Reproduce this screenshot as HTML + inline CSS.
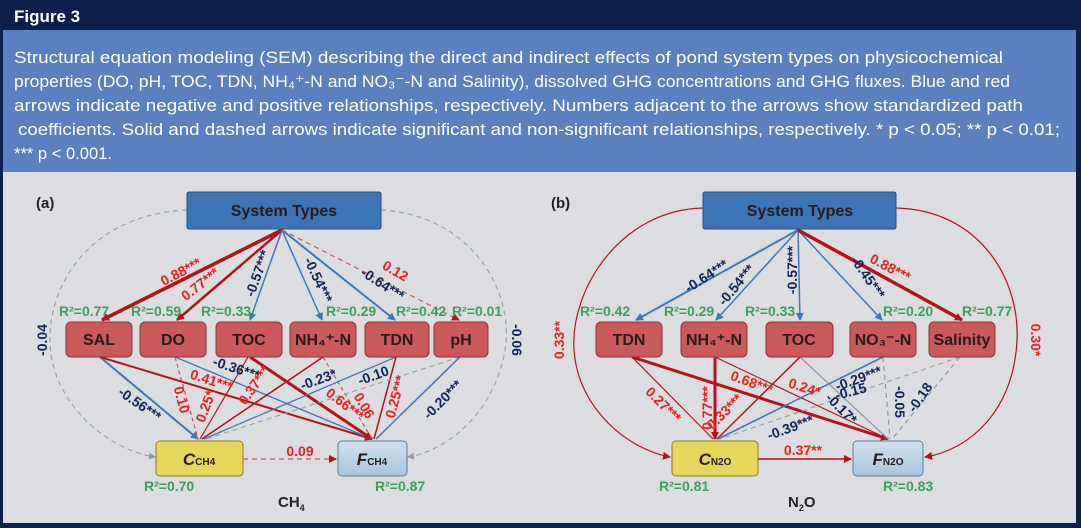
<!DOCTYPE html>
<html><head><meta charset="utf-8">
<style>
html,body{margin:0;padding:0;background:#dcdde0;}
svg{display:block;font-family:"Liberation Sans",sans-serif;}
.r{fill:#e8231e;font-weight:bold;font-size:14px;}
.b{fill:#13245a;font-weight:bold;font-size:14px;}
.g{fill:#3f9d5f;font-size:14px;font-weight:bold;}
.n{fill:#2a1a1a;font-size:16px;font-weight:bold;text-anchor:middle;}
.cap{fill:#fff;font-size:17px;}
</style></head><body>
<svg width="1081" height="528" viewBox="0 0 1081 528" xmlns="http://www.w3.org/2000/svg">
<defs>
<marker id="ar" markerWidth="8" markerHeight="8" refX="7" refY="4" orient="auto" markerUnits="userSpaceOnUse"><path d="M0,0 L8,4 L0,8 z" fill="#b3141c"/></marker>
<marker id="ab" markerWidth="8" markerHeight="8" refX="7" refY="4" orient="auto" markerUnits="userSpaceOnUse"><path d="M0,0 L8,4 L0,8 z" fill="#3e78b8"/></marker>
<marker id="ag" markerWidth="7" markerHeight="7" refX="6" refY="3.5" orient="auto" markerUnits="userSpaceOnUse"><path d="M0,0 L7,3.5 L0,7 z" fill="#8f98a6"/></marker>
<linearGradient id="fb" x1="0" y1="0" x2="0" y2="1"><stop offset="0" stop-color="#cfe0ee"/><stop offset="1" stop-color="#a9c6de"/></linearGradient>
</defs>
<rect x="0" y="0" width="1081" height="528" fill="#dcdde0"/>
<rect x="0" y="0" width="1081" height="30" fill="#0c1f4d"/>
<text x="14" y="22" fill="#fff" font-size="17" font-weight="bold">Figure 3</text>
<rect x="0" y="30" width="1081" height="142" fill="#5b80bf"/>
<rect x="0" y="30" width="3" height="498" fill="#0c1f4d"/>
<rect x="1076" y="30" width="5" height="498" fill="#0c1f4d"/>
<rect x="0" y="523" width="1081" height="5" fill="#0c1f4d"/>
<text class="cap" x="14" y="63" textLength="989" lengthAdjust="spacingAndGlyphs">Structural equation modeling (SEM) describing the direct and indirect effects of pond system types on physicochemical</text>
<text class="cap" x="14" y="87" textLength="996" lengthAdjust="spacingAndGlyphs">properties (DO, pH, TOC, TDN, NH₄⁺-N and NO₃⁻-N and Salinity), dissolved GHG concentrations and GHG fluxes. Blue and red</text>
<text class="cap" x="14" y="111" textLength="1009" lengthAdjust="spacingAndGlyphs">arrows indicate negative and positive relationships, respectively. Numbers adjacent to the arrows show standardized path</text>
<text class="cap" x="18" y="135" textLength="1042" lengthAdjust="spacingAndGlyphs">coefficients. Solid and dashed arrows indicate significant and non-significant relationships, respectively. * p &lt; 0.05; ** p &lt; 0.01;</text>
<text class="cap" x="14" y="159" textLength="98" lengthAdjust="spacingAndGlyphs">*** p &lt; 0.001.</text>

<!-- (a) -->
<text x="36" y="208" font-size="15" font-weight="bold" fill="#222">(a)</text>
<g fill="none">
<path d="M187,210 C80,215 40,300 52,360 C62,410 110,450 155,457" stroke="#9aa0aa" stroke-width="1.2" stroke-dasharray="5,4" marker-end="url(#ag)"/>
<path d="M381,210 C470,215 515,290 505,350 C495,410 450,450 408,457" stroke="#9aa0aa" stroke-width="1.2" stroke-dasharray="5,4" marker-end="url(#ag)"/>
<line x1="282" y1="230" x2="102" y2="320" stroke="#b3141c" stroke-width="3.5" marker-end="url(#ar)"/>
<line x1="282" y1="230" x2="177" y2="320" stroke="#b3141c" stroke-width="2.5" marker-end="url(#ar)"/>
<line x1="282" y1="230" x2="250" y2="320" stroke="#3e78b8" stroke-width="1.5" marker-end="url(#ab)"/>
<line x1="282" y1="230" x2="322" y2="320" stroke="#3e78b8" stroke-width="1.5" marker-end="url(#ab)"/>
<line x1="282" y1="230" x2="395" y2="320" stroke="#3e78b8" stroke-width="2" marker-end="url(#ab)"/>
<line x1="282" y1="230" x2="459" y2="320" stroke="#c25a5e" stroke-width="1.2" stroke-dasharray="5,4" marker-end="url(#ar)"/>
<line x1="100" y1="357" x2="198" y2="439" stroke="#3e78b8" stroke-width="2" marker-end="url(#ab)"/>
<line x1="100" y1="357" x2="372" y2="439" stroke="#b3141c" stroke-width="2" marker-end="url(#ar)"/>
<line x1="175" y1="357" x2="198" y2="439" stroke="#c25a5e" stroke-width="1.2" stroke-dasharray="4,3"/>
<line x1="175" y1="357" x2="372" y2="439" stroke="#3e78b8" stroke-width="1.3"/>
<line x1="248" y1="357" x2="200" y2="439" stroke="#b3141c" stroke-width="1.2"/>
<line x1="250" y1="357" x2="372" y2="439" stroke="#b3141c" stroke-width="3" marker-end="url(#ar)"/>
<line x1="323" y1="357" x2="202" y2="439" stroke="#b3141c" stroke-width="1.6"/>
<line x1="323" y1="357" x2="372" y2="439" stroke="#c25a5e" stroke-width="1.2" stroke-dasharray="4,3"/>
<line x1="396" y1="357" x2="204" y2="439" stroke="#3e78b8" stroke-width="1.3"/>
<line x1="396" y1="357" x2="374" y2="439" stroke="#b3141c" stroke-width="1.5"/>
<line x1="460" y1="357" x2="206" y2="439" stroke="#9aa0aa" stroke-width="1.2" stroke-dasharray="5,4"/>
<line x1="460" y1="357" x2="376" y2="439" stroke="#3e78b8" stroke-width="1.5"/>
<line x1="243" y1="459" x2="336" y2="459" stroke="#c25a5e" stroke-width="1.3" stroke-dasharray="5,4" marker-end="url(#ar)"/>
</g>
<rect x="187" y="192" width="194" height="37" rx="2" fill="#3d74b5" stroke="#2c4f7e"/>
<text x="284" y="216" class="n">System Types</text>
<g fill="#c9595a" stroke="#8a3333">
<rect x="66" y="322" width="66" height="35" rx="5"/><rect x="140" y="322" width="66" height="35" rx="5"/>
<rect x="216" y="322" width="66" height="35" rx="5"/><rect x="290" y="322" width="66" height="35" rx="5"/>
<rect x="365" y="322" width="64" height="35" rx="5"/><rect x="434" y="322" width="54" height="35" rx="5"/>
</g>
<text x="99" y="345" class="n">SAL</text><text x="173" y="345" class="n">DO</text><text x="249" y="345" class="n">TOC</text>
<text x="323" y="345" class="n">NH₄⁺-N</text><text x="397" y="345" class="n">TDN</text><text x="461" y="345" class="n">pH</text>
<rect x="156" y="441" width="87" height="35" rx="4" fill="#e6d65a" stroke="#8a7b2b"/>
<text x="199" y="465" class="n"><tspan font-style="italic" font-size="17">C</tspan><tspan font-size="10">CH4</tspan></text>
<rect x="338" y="441" width="69" height="35" rx="4" fill="url(#fb)" stroke="#5d7a93"/>
<text x="372" y="465" class="n"><tspan font-style="italic" font-size="17">F</tspan><tspan font-size="10">CH4</tspan></text>
<text class="g" x="59" y="316">R²=0.77</text><text class="g" x="131" y="316">R²=0.59</text><text class="g" x="201" y="316">R²=0.33</text>
<text class="g" x="326" y="316">R²=0.29</text><text class="g" x="396" y="316">R²=0.42</text><text class="g" x="452" y="316">R²=0.01</text>
<text class="g" x="144" y="491">R²=0.70</text><text class="g" x="375" y="491">R²=0.87</text>
<text x="278" y="507" font-size="15" font-weight="bold" fill="#222">CH<tspan font-size="9" dy="4">4</tspan></text>
<text class="b" transform="translate(47,340) rotate(-90)" text-anchor="middle">-0.04</text>
<text class="b" transform="translate(512,340) rotate(90)" text-anchor="middle">-0.06</text>
<text class="r" transform="translate(183,276) rotate(-28)" text-anchor="middle">0.88***</text>
<text class="r" transform="translate(203,288) rotate(-38)" text-anchor="middle">0.77***</text>
<text class="b" transform="translate(262,275) rotate(-70)" text-anchor="middle">-0.57***</text>
<text class="b" transform="translate(314,282) rotate(65)" text-anchor="middle">-0.54***</text>
<text class="b" transform="translate(380,288) rotate(33)" text-anchor="middle">-0.64***</text>
<text class="r" transform="translate(393,275) rotate(30)" text-anchor="middle">0.12</text>
<text class="b" transform="translate(137,408) rotate(35)" text-anchor="middle">-0.56***</text>
<text class="r" transform="translate(177,401) rotate(75)" text-anchor="middle">0.10</text>
<text class="r" transform="translate(210,385) rotate(18)" text-anchor="middle">0.41***</text>
<text class="r" transform="translate(210,408) rotate(-70)" text-anchor="middle">0.25*</text>
<text class="b" transform="translate(235,373) rotate(18)" text-anchor="middle">-0.36***</text>
<text class="r" transform="translate(258,388) rotate(-55)" text-anchor="middle">0.37***</text>
<text class="b" transform="translate(320,384) rotate(-20)" text-anchor="middle">-0.23*</text>
<text class="r" transform="translate(342,408) rotate(38)" text-anchor="middle">0.66***</text>
<text class="b" transform="translate(375,380) rotate(-20)" text-anchor="middle">-0.10</text>
<text class="r" transform="translate(360,408) rotate(60)" text-anchor="middle">0.06</text>
<text class="r" transform="translate(400,398) rotate(-75)" text-anchor="middle">0.25***</text>
<text class="b" transform="translate(446,403) rotate(-45)" text-anchor="middle">-0.20***</text>
<text class="r" x="300" y="456" text-anchor="middle">0.09</text>

<!-- (b) -->
<text x="551" y="208" font-size="15" font-weight="bold" fill="#222">(b)</text>
<g fill="none">
<path d="M703,208 C620,210 570,290 574,350 C578,410 630,450 670,457" stroke="#b3141c" stroke-width="1.2" marker-end="url(#ar)"/>
<path d="M896,208 C980,210 1020,280 1017,340 C1014,410 970,450 925,457" stroke="#b3141c" stroke-width="1.2" marker-end="url(#ar)"/>
<line x1="798" y1="230" x2="636" y2="320" stroke="#3e78b8" stroke-width="2" marker-end="url(#ab)"/>
<line x1="798" y1="230" x2="716" y2="320" stroke="#3e78b8" stroke-width="1.5" marker-end="url(#ab)"/>
<line x1="798" y1="230" x2="800" y2="320" stroke="#3e78b8" stroke-width="1.5" marker-end="url(#ab)"/>
<line x1="798" y1="230" x2="882" y2="320" stroke="#3e78b8" stroke-width="1.5" marker-end="url(#ab)"/>
<line x1="798" y1="230" x2="962" y2="320" stroke="#b3141c" stroke-width="3.5" marker-end="url(#ar)"/>
<line x1="632" y1="357" x2="713" y2="439" stroke="#b3141c" stroke-width="1.2"/>
<line x1="632" y1="357" x2="888" y2="439" stroke="#b3141c" stroke-width="3" marker-end="url(#ar)"/>
<line x1="715" y1="357" x2="715" y2="439" stroke="#b3141c" stroke-width="3" marker-end="url(#ar)"/>
<line x1="715" y1="357" x2="888" y2="439" stroke="#b3141c" stroke-width="1.2"/>
<line x1="800" y1="357" x2="717" y2="439" stroke="#b3141c" stroke-width="1.5"/>
<line x1="800" y1="357" x2="888" y2="439" stroke="#8f98a6" stroke-width="1.2"/>
<line x1="883" y1="357" x2="718" y2="439" stroke="#3e78b8" stroke-width="1.6"/>
<line x1="883" y1="357" x2="890" y2="439" stroke="#8f98a6" stroke-width="1.2" stroke-dasharray="5,4"/>
<line x1="960" y1="357" x2="720" y2="439" stroke="#9aa0aa" stroke-width="1.2" stroke-dasharray="5,4"/>
<line x1="960" y1="357" x2="892" y2="439" stroke="#8f98a6" stroke-width="1.2" stroke-dasharray="5,4"/>
<line x1="758" y1="459" x2="851" y2="459" stroke="#b3141c" stroke-width="1.5" marker-end="url(#ar)"/>
</g>
<rect x="703" y="192" width="193" height="37" rx="2" fill="#3d74b5" stroke="#2c4f7e"/>
<text x="800" y="216" class="n">System Types</text>
<g fill="#c9595a" stroke="#8a3333">
<rect x="596" y="322" width="66" height="35" rx="5"/><rect x="681" y="322" width="66" height="35" rx="5"/>
<rect x="766" y="322" width="67" height="35" rx="5"/><rect x="850" y="322" width="66" height="35" rx="5"/>
<rect x="929" y="322" width="66" height="35" rx="5"/>
</g>
<text x="629" y="345" class="n">TDN</text><text x="714" y="345" class="n">NH₄⁺-N</text><text x="799" y="345" class="n">TOC</text>
<text x="883" y="345" class="n">NO₃⁻-N</text><text x="962" y="345" class="n">Salinity</text>
<rect x="672" y="441" width="86" height="35" rx="4" fill="#e6d65a" stroke="#8a7b2b"/>
<text x="715" y="465" class="n"><tspan font-style="italic" font-size="17">C</tspan><tspan font-size="10">N2O</tspan></text>
<rect x="853" y="441" width="70" height="35" rx="4" fill="url(#fb)" stroke="#5d7a93"/>
<text x="888" y="465" class="n"><tspan font-style="italic" font-size="17">F</tspan><tspan font-size="10">N2O</tspan></text>
<text class="g" x="580" y="316">R²=0.42</text><text class="g" x="664" y="316">R²=0.29</text><text class="g" x="745" y="316">R²=0.33</text>
<text class="g" x="883" y="316">R²=0.20</text><text class="g" x="962" y="316">R²=0.77</text>
<text class="g" x="659" y="491">R²=0.81</text><text class="g" x="883" y="491">R²=0.83</text>
<text x="788" y="507" font-size="15" font-weight="bold" fill="#222">N<tspan font-size="9" dy="4">2</tspan><tspan dy="-4">O</tspan></text>
<text class="r" transform="translate(564,340) rotate(-90)" text-anchor="middle">0.33**</text>
<text class="r" transform="translate(1031,340) rotate(90)" text-anchor="middle">0.30*</text>
<text class="b" transform="translate(709,280) rotate(-33)" text-anchor="middle">-0.64***</text>
<text class="b" transform="translate(740,288) rotate(-50)" text-anchor="middle">-0.54***</text>
<text class="b" transform="translate(797,270) rotate(-90)" text-anchor="middle">-0.57***</text>
<text class="b" transform="translate(864,280) rotate(55)" text-anchor="middle">-0.45***</text>
<text class="r" transform="translate(888,272) rotate(28)" text-anchor="middle">0.88***</text>
<text class="r" transform="translate(660,408) rotate(45)" text-anchor="middle">0.27***</text>
<text class="r" transform="translate(712,408) rotate(-90)" text-anchor="middle">0.77***</text>
<text class="r" transform="translate(728,415) rotate(-45)" text-anchor="middle">0.33***</text>
<text class="r" transform="translate(750,387) rotate(20)" text-anchor="middle">0.68***</text>
<text class="r" transform="translate(803,392) rotate(18)" text-anchor="middle">0.24*</text>
<text class="b" transform="translate(860,383) rotate(-20)" text-anchor="middle">-0.29***</text>
<text class="b" transform="translate(852,396) rotate(-15)" text-anchor="middle">-0.15</text>
<text class="b" transform="translate(838,412) rotate(45)" text-anchor="middle">-0.17*</text>
<text class="b" transform="translate(792,432) rotate(-20)" text-anchor="middle">-0.39***</text>
<text class="b" transform="translate(895,402) rotate(90)" text-anchor="middle">-0.05</text>
<text class="b" transform="translate(924,400) rotate(-55)" text-anchor="middle">-0.18</text>
<text class="r" x="803" y="455" text-anchor="middle">0.37**</text>
</svg>
</body></html>
